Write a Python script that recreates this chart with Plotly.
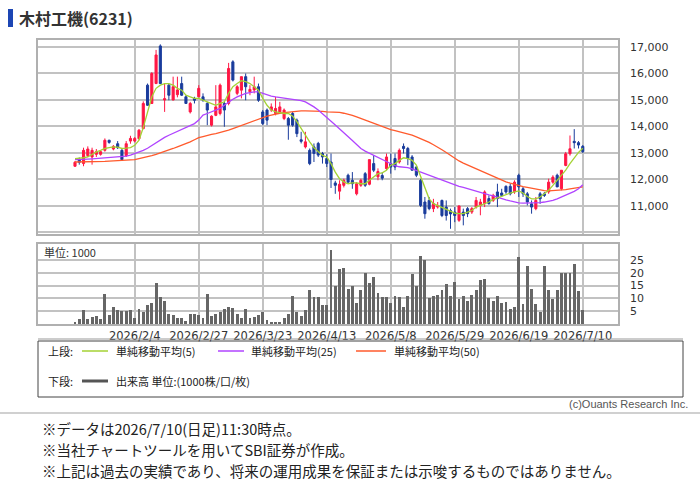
import plotly.graph_objects as go

W, H = 700, 485

# ---------------- data ----------------
tick_idx = [14, 29, 44, 59, 74, 89, 104, 119]
tick_labels = ["2026/2/4", "2026/2/27", "2026/3/23", "2026/4/13", "2026/5/8",
               "2026/5/29", "2026/6/19", "2026/7/10"]

opens = [12500, 12750, 12600, 12900, 12850, 12950, 12950, 13100, 13480, 13150,
         13350, 13100, 12900, 13450, 13450, 13540, 13920, 15560, 14870, 15620,
         17040, 15000, 15560, 15000, 15200, 15620, 15120, 14550, 15060, 15120,
         15120, 14870, 14050, 14420, 14490, 14870, 14870, 16440, 15250, 15370,
         15880, 15310, 15380, 15500, 14550, 14620, 14620, 14490, 14550, 14300,
         14300, 14490, 14240, 13500, 13230, 13100, 13230, 13360, 12980, 12790,
         12660, 11870, 11560, 11780, 12160, 11970, 11460, 11780, 12220, 11820,
         12600, 12100, 12150, 12410, 12600, 12790, 12660, 13250, 13170, 12850,
         12470, 11970, 11150, 11210, 10900, 10960, 11210, 10960, 10830, 10770,
         10460, 10770, 10900, 10770, 10960, 11020, 11090, 11280, 11210, 11530,
         11490, 11740, 11740, 11530, 12160, 11650, 11460, 11080, 10900, 11460,
         11460, 11530, 11900, 12160, 11650, 12530, 12970, 13440, 13390, 13250]
highs = [12700, 12830, 13200, 13250, 13200, 13150, 13100, 13550, 13500, 13300,
         13450, 13150, 13450, 13650, 13600, 13900, 14950, 15620, 16050, 16890,
         17100, 15620, 15620, 15880, 15880, 15880, 15180, 14930, 15120, 15560,
         15250, 14930, 14420, 15560, 15620, 14930, 16400, 16500, 15560, 15880,
         16000, 15560, 15880, 15620, 14620, 14680, 14870, 15120, 14930, 14680,
         14360, 14550, 14300, 13800, 13800, 13170, 13360, 13420, 13040, 12950,
         12980, 11950, 11970, 12030, 12220, 12280, 11900, 12030, 12280, 12750,
         12920, 12420, 12280, 12980, 12980, 12980, 13170, 13360, 13230, 12920,
         12500, 12030, 11340, 11340, 11270, 11150, 11240, 11210, 10900, 10960,
         11020, 10900, 10960, 10960, 11340, 11270, 11590, 11400, 11460, 11840,
         11650, 11780, 11840, 11970, 12220, 11720, 11530, 11210, 11340, 11530,
         11530, 12030, 12160, 12220, 12350, 13040, 13660, 13900, 13450, 13300]
lows = [12480, 12560, 12500, 12850, 12560, 12850, 12900, 13050, 13350, 13100,
        13150, 12700, 12850, 13350, 13400, 13500, 13900, 14780, 14850, 15600,
        15600, 14550, 14990, 14990, 15100, 15150, 14850, 14490, 14870, 15100,
        14930, 14050, 14000, 14390, 14420, 13990, 14800, 15700, 15180, 15060,
        14990, 15180, 15250, 14930, 14050, 14050, 14550, 14420, 14490, 14240,
        13500, 13990, 13600, 13360, 13170, 12540, 12660, 12850, 12600, 12470,
        11680, 11460, 11240, 11700, 11840, 11650, 11400, 11720, 11720, 11780,
        12280, 11970, 11970, 12350, 12220, 12350, 12600, 12980, 12540, 12350,
        12090, 10960, 10520, 10840, 10770, 10900, 10580, 10450, 10140, 10390,
        10400, 10270, 10580, 10700, 10900, 10650, 10960, 11050, 11150, 10960,
        11340, 11460, 11400, 11460, 11340, 11340, 11020, 10710, 10840, 11080,
        11340, 11460, 11840, 11720, 11590, 12500, 12900, 13170, 13170, 13000]
closes = [12650, 12650, 13100, 13150, 13100, 13050, 13050, 13480, 13400, 13250,
          13200, 12750, 13350, 13550, 13550, 13860, 14870, 14800, 16000, 16700,
          15620, 15050, 15180, 15500, 15380, 15180, 14870, 14870, 14990, 15440,
          14990, 14620, 14390, 14740, 15560, 14620, 16190, 15750, 15500, 15880,
          15500, 15400, 15500, 14990, 14110, 14240, 14740, 14680, 14740, 14620,
          14050, 14050, 13730, 13440, 13420, 12600, 12980, 12920, 12850, 12600,
          12000, 11780, 11820, 11970, 11900, 11840, 11840, 11970, 11780, 12750,
          12350, 12300, 12050, 12850, 12470, 12470, 13100, 13170, 12790, 12350,
          12160, 11020, 10710, 10900, 11090, 11020, 10640, 10640, 10700, 10640,
          11000, 10640, 10710, 10900, 11210, 11150, 11530, 11090, 11400, 11280,
          11400, 11530, 11460, 11900, 11720, 11460, 11150, 10960, 11210, 11270,
          11400, 11900, 12090, 11720, 12350, 12970, 13160, 13390, 13300, 13050]

ma5 = [12790, 12800, 12820, 12850, 12950, 13040, 13100, 13170, 13200, 13230,
       13220, 13170, 13180, 13200, 13290, 13480, 13960, 14550, 15120, 15440,
       15560, 15620, 15620, 15560, 15440, 15370, 15180, 15120, 15060, 15060,
       14990, 14930, 14870, 14800, 14870, 14930, 15250, 15500, 15620, 15730,
       15690, 15620, 15500, 15370, 15060, 14800, 14620, 14550, 14520, 14490,
       14490, 14390, 14180, 13920, 13670, 13420, 13200, 13040, 12910, 12850,
       12600, 12280, 12030, 11910, 11840, 11870, 11870, 11840, 11840, 11970,
       12090, 12220, 12250, 12350, 12540, 12600, 12720, 12820, 12790, 12720,
       12540, 12090, 11650, 11270, 11090, 11020, 10960, 10900, 10830, 10730,
       10710, 10710, 10770, 10830, 10960, 11020, 11090, 11150, 11240, 11310,
       11360, 11440, 11490, 11530, 11570, 11490, 11360, 11270, 11270, 11340,
       11460, 11590, 11780, 11970, 12150, 12350, 12600, 12820, 13020, 13180]
ma25 = [12750, 12750, 12760, 12770, 12780, 12790, 12800, 12810, 12820, 12840,
        12850, 12860, 12880, 12920, 12980, 13030, 13100, 13180, 13290, 13400,
        13510, 13590, 13670, 13740, 13800, 13880, 13960, 14040, 14110, 14240,
        14430, 14490, 14550, 14620, 14680, 14800, 14930, 15030, 15120, 15190,
        15250, 15280, 15310, 15310, 15250, 15200, 15150, 15120, 15100, 15080,
        15060, 15040, 15020, 14980, 14930, 14850, 14740, 14620, 14490, 14350,
        14200, 14060, 13920, 13770, 13620, 13470, 13320, 13170, 13070, 12990,
        12910, 12830, 12740, 12650, 12570, 12520, 12480, 12460, 12450, 12400,
        12340, 12280, 12220, 12160, 12100, 12040, 11980, 11910, 11850, 11780,
        11740, 11700, 11650, 11610, 11570, 11520, 11460, 11420, 11380, 11320,
        11270, 11230, 11190, 11150, 11120, 11110, 11110, 11110, 11110, 11130,
        11150, 11180, 11210, 11270, 11340, 11400, 11460, 11550, 11650, 11800]
ma50 = [12660, 12660, 12660, 12660, 12660, 12660, 12670, 12680, 12690, 12700,
        12700, 12700, 12710, 12720, 12750, 12790, 12820, 12850, 12900, 12950,
        13000, 13040, 13100, 13170, 13230, 13290, 13360, 13420, 13500, 13580,
        13620, 13670, 13700, 13730, 13770, 13800, 13860, 13920, 13980, 14050,
        14110, 14180, 14240, 14300, 14350, 14390, 14430, 14470, 14500, 14520,
        14540, 14550, 14570, 14590, 14590, 14590, 14590, 14590, 14570, 14550,
        14550, 14550, 14530, 14500, 14470, 14420, 14360, 14300, 14240, 14170,
        14110, 14050, 13980, 13920, 13880, 13840, 13800, 13760, 13710, 13670,
        13610, 13550, 13480, 13400, 13310, 13230, 13120, 13020, 12910, 12800,
        12700, 12620, 12550, 12480, 12400, 12330, 12250, 12170, 12100, 12030,
        11970, 11910, 11860, 11810, 11770, 11730, 11700, 11670, 11630, 11590,
        11580, 11570, 11580, 11590, 11600, 11620, 11650, 11680, 11700, 11720]

volume = [0.9, 2.0, 5.6, 2.1, 2.9, 3.1, 2.1, 11.6, 3.5, 6.8,
          5.6, 5.2, 5.2, 5.6, 2.5, 6.0, 4.7, 7.5, 8.3, 16.0,
          10.6, 9.1, 4.0, 3.5, 2.5, 2.5, 1.2, 4.0, 4.0, 3.5,
          2.5, 11.6, 3.2, 4.0, 4.5, 6.0, 6.8, 6.4, 4.0, 2.5,
          6.0, 2.5, 2.9, 3.5, 4.8, 1.7, 0.4, 0.4, 0.9, 2.3,
          4.0, 10.8, 4.5, 3.2, 5.6, 13.4, 10.6, 10.6, 7.5, 7.5,
          29.0, 15.0, 21.4, 21.7, 13.6, 15.0, 8.4, 13.1, 20.1, 16.0,
          18.2, 12.3, 10.4, 10.4, 8.4, 11.0, 10.4, 6.8, 10.8, 19.5,
          15.0, 26.6, 25.0, 10.1, 11.0, 11.4, 13.4, 15.6, 11.0, 16.6,
          9.7, 10.8, 9.1, 11.4, 13.4, 17.0, 17.4, 10.1, 8.8, 11.0,
          8.4, 8.7, 6.0, 6.8, 26.1, 7.9, 22.7, 13.8, 7.9, 4.5,
          22.7, 13.1, 9.9, 13.1, 20.1, 20.1, 20.1, 23.5, 12.7, 5.6]

price_ticks = [11000, 12000, 13000, 14000, 15000, 16000, 17000]
vol_ticks = [5, 10, 15, 20, 25]

idx = list(range(len(closes)))

# ---------------- figure ----------------
def px(x):
    return x / W


def py(y):
    return 1 - y / H


RED = "#ff1744"
BLUE = "#1a3c9c"
GRID = "#c2c2c2"
BORDER = "#b0b0b0"
TXT = "#333333"

fig = go.Figure()

fig.add_trace(go.Candlestick(
    x=idx, open=opens, high=highs, low=lows, close=closes,
    increasing=dict(line=dict(color=RED, width=1), fillcolor=RED),
    decreasing=dict(line=dict(color=BLUE, width=1), fillcolor=BLUE),
    whiskerwidth=0, xaxis="x", yaxis="y", showlegend=False, hoverinfo="skip"))

for vals, col in [(ma50, "#ff5a2c"), (ma25, "#b044ff"), (ma5, "#a4d234")]:
    fig.add_trace(go.Scatter(x=idx, y=vals, mode="lines",
                             line=dict(color=col, width=1.3),
                             xaxis="x", yaxis="y", showlegend=False,
                             hoverinfo="skip"))

fig.add_trace(go.Bar(x=idx, y=volume, marker=dict(color="#666666", line=dict(width=0)),
                     width=0.68, xaxis="x2", yaxis="y2", showlegend=False,
                     hoverinfo="skip"))

x0 = 75.0
step = 4.267
xr = [(38 - x0) / step, (618 - x0) / step]

common_x = dict(domain=[px(38), px(618)], range=xr, tickvals=tick_idx,
                showgrid=True, gridcolor=GRID, gridwidth=1.5, zeroline=False,
                showline=True, mirror=True, linecolor=BORDER, linewidth=1.5,
                ticks="", fixedrange=True)

fig.update_layout(
    width=W, height=H, margin=dict(l=0, r=0, t=0, b=0),
    paper_bgcolor="white", plot_bgcolor="white",
    bargap=0,
    xaxis=dict(**common_x, anchor="y", showticklabels=False,
               rangeslider=dict(visible=False)),
    xaxis2=dict(**common_x, anchor="y2", ticktext=tick_labels,
                showticklabels=True,
                tickfont=dict(family="DejaVu Sans", size=11.5, color=TXT)),
    yaxis=dict(domain=[py(234), py(40)], range=[9943, 17264], side="right",
               tickvals=[10000] + price_ticks,
               ticktext=[""] + [f"{v:,}" for v in price_ticks],
               showgrid=True, gridcolor=GRID, gridwidth=1.5, zeroline=False,
               showline=True, mirror=True, linecolor=BORDER, linewidth=1.5,
               ticks="", ticklabelstandoff=8,
               tickfont=dict(family="DejaVu Sans", size=11, color=TXT),
               anchor="x", fixedrange=True),
    yaxis2=dict(domain=[py(324), py(244)], range=[0, 31.25], side="right",
                tickvals=vol_ticks, showgrid=True, gridcolor=GRID, gridwidth=1.5,
                zeroline=False, showline=True, mirror=True, linecolor=BORDER,
                linewidth=1.5, ticks="", ticklabelstandoff=8,
                tickfont=dict(family="DejaVu Sans", size=11, color=TXT),
                anchor="x2", fixedrange=True),
)

shapes = []
annos = []

# title marker
shapes.append(dict(type="rect", xref="paper", yref="paper",
                   x0=px(8), x1=px(13), y0=py(27), y1=py(9),
                   fillcolor="#1d46b4", line=dict(width=0)))
annos.append(dict(text="<b>木村工機(6231)</b>", xref="paper", yref="paper",
                  x=px(17), y=py(18), xanchor="left", yanchor="middle",
                  showarrow=False,
                  font=dict(family="Noto Sans CJK JP", size=16, color="#333333")))

# volume unit
annos.append(dict(text="単位: 1000", xref="paper", yref="paper",
                  x=px(42), y=py(252), xanchor="left", yanchor="middle",
                  showarrow=False,
                  font=dict(family="Noto Sans CJK JP", size=11, color=TXT)))

# line below the date labels
shapes.append(dict(type="line", xref="paper", yref="paper",
                   x0=px(38), x1=px(683), y0=py(339), y1=py(339),
                   line=dict(color="#999999", width=1)))

# legend box
shapes.append(dict(type="rect", xref="paper", yref="paper",
                   x0=px(38), x1=px(683), y0=py(397), y1=py(341),
                   line=dict(color="#444444", width=1), fillcolor="rgba(0,0,0,0)"))

lf = dict(family="Noto Sans CJK JP", size=11, color="#222222")
annos.append(dict(text="上段:", xref="paper", yref="paper", x=px(46), y=py(351),
                  xanchor="left", yanchor="middle", showarrow=False, font=lf))
annos.append(dict(text="下段:", xref="paper", yref="paper", x=px(46), y=py(381),
                  xanchor="left", yanchor="middle", showarrow=False, font=lf))
legend_items = [(82, 108, 114, "#a4d234", "単純移動平均(5)"),
                (218, 244, 249, "#b044ff", "単純移動平均(25)"),
                (356, 386, 392, "#ff5a2c", "単純移動平均(50)")]
for a, b, t, col, label in legend_items:
    shapes.append(dict(type="line", xref="paper", yref="paper",
                       x0=px(a), x1=px(b), y0=py(351), y1=py(351),
                       line=dict(color=col, width=1.5)))
    annos.append(dict(text=label, xref="paper", yref="paper", x=px(t), y=py(351),
                      xanchor="left", yanchor="middle", showarrow=False, font=lf))
shapes.append(dict(type="line", xref="paper", yref="paper",
                   x0=px(82), x1=px(108), y0=py(381), y1=py(381),
                   line=dict(color="#555555", width=3)))
annos.append(dict(text="出来高 単位:(1000株/口/枚)", xref="paper", yref="paper",
                  x=px(114), y=py(381), xanchor="left", yanchor="middle",
                  showarrow=False, font=lf))

annos.append(dict(text="(c)Ouants Research Inc.", xref="paper", yref="paper",
                  x=px(690), y=py(404), xanchor="right", yanchor="middle",
                  showarrow=False,
                  font=dict(family="Liberation Sans", size=11, color="#555555")))

shapes.append(dict(type="line", xref="paper", yref="paper",
                   x0=0, x1=1, y0=py(413), y1=py(413),
                   line=dict(color="#d0d0d0", width=2)))

notes = ["※データは2026/7/10(日足)11:30時点。",
         "※当社チャートツールを用いてSBI証券が作成。",
         "※上記は過去の実績であり、将来の運用成果を保証または示唆するものではありません。"]
for k, t in enumerate(notes):
    annos.append(dict(text=t, xref="paper", yref="paper", x=px(40),
                      y=py(428.5 + 21 * k), xanchor="left", yanchor="middle",
                      showarrow=False,
                      font=dict(family="Noto Sans CJK JP", size=14.5,
                                color="#222222")))

fig.update_layout(shapes=shapes, annotations=annos)

fig.write_html("out.html")
